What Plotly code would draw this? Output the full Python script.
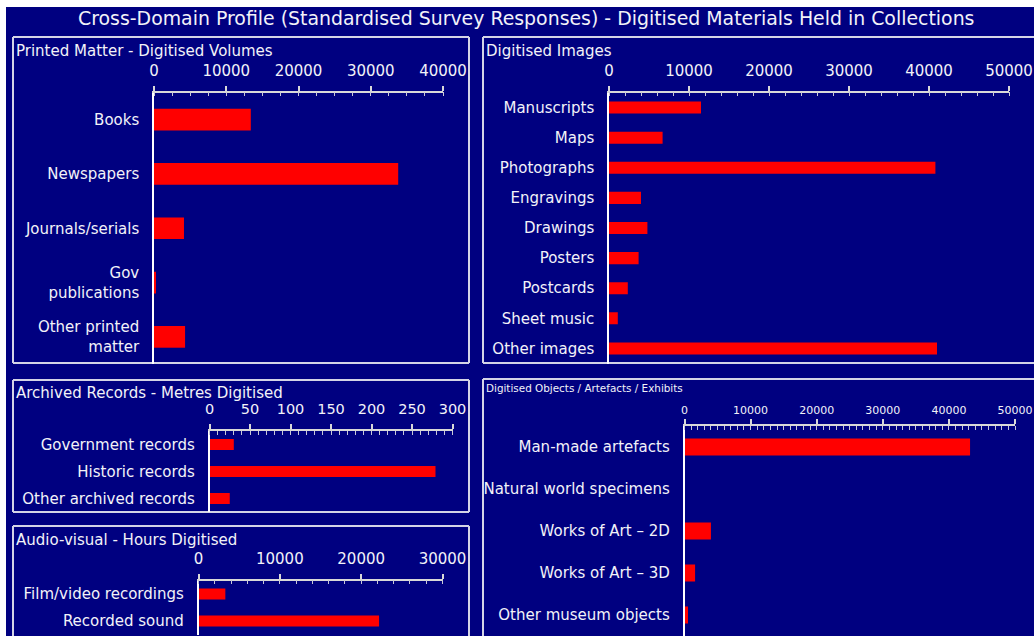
import plotly.graph_objects as go

# ---- data ----
printed_cats = ["Books", "Newspapers", "Journals/serials", "Gov<br>publications", "Other printed<br>matter"]
printed_vals = [13400, 33800, 4150, 200, 4300]

image_cats = ["Manuscripts", "Maps", "Photographs", "Engravings", "Drawings",
              "Posters", "Postcards", "Sheet music", "Other images"]
image_vals = [11500, 6700, 40800, 4000, 4800, 3700, 2350, 1100, 41000]

archive_cats = ["Government records", "Historic records", "Other archived records"]
archive_vals = [30, 279, 25]

av_cats = ["Film/video recordings", "Recorded sound"]
av_vals = [3300, 22200]

object_cats = ["Man-made artefacts", "Natural world specimens", "Works of Art \u2013 2D",
               "Works of Art \u2013 3D", "Other museum objects"]
object_vals = [43200, 0, 4000, 1600, 530]

W, H = 1034, 636
OFF_X, OFF_Y = 6, 7  # page margin: the figure sits a few px in from the top-left corner
NAVY = "#000080"
FONT = "DejaVu Sans"
TXT = "#f2f2f8"
BOX = "#d4d4e6"


def px(x):
    # screen pixel -> paper fraction
    return (x - OFF_X) / W


def py(y):
    return 1 - (y - OFF_Y) / H


# panel layout in screen pixels: (x0, x1, ytop, ybottom), range, minor step, font sizes
panels = [
    dict(cats=printed_cats, vals=printed_vals, x=(154, 443), y=(92.5, 364), rng=40000, dtick=10000, minor=2500, tf=15, cf=15, stand=4),
    dict(cats=image_cats, vals=image_vals, x=(609, 1009), y=(92.5, 363.5), rng=50000, dtick=10000, minor=2000, tf=15, cf=15, stand=4),
    dict(cats=archive_cats, vals=archive_vals, x=(209.5, 452.5), y=(431, 512), rng=300, dtick=50, minor=10, tf=14.5, cf=15, stand=4),
    dict(cats=av_cats, vals=av_vals, x=(198.5, 442.5), y=(580.5, 634.5), rng=30000, dtick=10000, minor=2000, tf=15, cf=15, stand=4),
    dict(cats=object_cats, vals=object_vals, x=(684.5, 1015), y=(426, 636), rng=50000, dtick=10000, minor=1000, tf=11, cf=15, stand=1),
]

fig = go.Figure()
layout = {}
for i, p in enumerate(panels, start=1):
    sfx = "" if i == 1 else str(i)
    fig.add_trace(go.Bar(
        x=p["vals"], y=p["cats"], orientation="h",
        marker=dict(color="#ff0000", line_width=0),
        xaxis="x" + sfx, yaxis="y" + sfx, showlegend=False,
    ))
    layout["xaxis" + sfx] = dict(
        domain=[px(p["x"][0]), px(p["x"][1])], anchor="y" + sfx, side="top",
        range=[0, p["rng"]], dtick=p["dtick"], tick0=0, tickformat="d",
        showgrid=False, zeroline=False, showline=True, linecolor="#d8d8d8", linewidth=1.5,
        ticks="outside", ticklen=5, tickcolor="#d8d8d8", tickwidth=1.5,
        ticklabelstandoff=p["stand"], automargin=False,
        tickfont=dict(family=FONT, size=p["tf"], color=TXT),
        minor=dict(dtick=p["minor"], ticks="inside", ticklen=4, tickcolor="#c8c8d8", tickwidth=1, showgrid=False),
        fixedrange=True,
    )
    layout["yaxis" + sfx] = dict(
        domain=[py(p["y"][1]), py(p["y"][0])], anchor="x" + sfx,
        autorange="reversed", showgrid=False, zeroline=False,
        showline=True, linecolor="#ffffff", linewidth=1.5, ticks="",
        ticklabelstandoff=10, automargin=False,
        tickfont=dict(family=FONT, size=p["cf"], color=TXT),
        fixedrange=True,
    )

fig.update_layout(**layout)

# panel borders (screen px); some panels run off the right / bottom edge of the window
segments = [
    # printed matter
    (13, 37, 469, 37), (13, 363, 469, 363), (13, 37, 13, 363), (469, 37, 469, 363),
    # digitised images
    (483, 37, 1040, 37), (483, 363, 1040, 363), (483, 37, 483, 363),
    # archived records
    (13, 380, 469, 380), (13, 512, 469, 512), (13, 380, 13, 512), (469, 380, 469, 512),
    # audio-visual
    (13, 526, 469, 526), (13, 526, 13, 643), (469, 526, 469, 643),
    # objects
    (483, 379, 1040, 379), (483, 379, 483, 643),
]
shapes = [dict(type="line", xref="paper", yref="paper",
               x0=px(x0), x1=px(x1), y0=py(y0), y1=py(y1),
               line=dict(color=BOX, width=2), layer="below")
          for x0, y0, x1, y1 in segments]

# panel titles
titles = [
    ("Printed Matter - Digitised Volumes", 13.5, 51, 15),
    ("Digitised Images", 484, 51, 15),
    ("Archived Records - Metres Digitised", 13.5, 393, 15),
    ("Audio-visual - Hours Digitised", 13.5, 540, 15),
    ("Digitised Objects / Artefacts / Exhibits", 484, 388, 10.4),
]
annotations = [dict(text=t, x=px(x), y=py(y), xref="paper", yref="paper",
                    xanchor="left", yanchor="middle", showarrow=False,
                    font=dict(family=FONT, size=s, color=TXT))
               for t, x, y, s in titles]
annotations.append(dict(
    text="Cross-Domain Profile (Standardised Survey Responses) - Digitised Materials Held in Collections",
    x=px(525.5), y=py(18), xref="paper", yref="paper", xanchor="center", yanchor="middle",
    showarrow=False, font=dict(family=FONT, size=18.9, color=TXT)))

fig.update_layout(
    width=W, height=H,
    margin=dict(l=0, r=0, t=0, b=0, autoexpand=False),
    paper_bgcolor=NAVY, plot_bgcolor=NAVY,
    bargap=0.6,
    shapes=shapes, annotations=annotations,
    font=dict(family=FONT, color=TXT),
)

fig.write_html(
    "out.html", config={"displayModeBar": False},
    post_script="document.body.style.margin='%dpx 0 0 %dpx';document.body.style.overflow='hidden';"
                "document.body.style.background='white';" % (OFF_Y, OFF_X),
)
